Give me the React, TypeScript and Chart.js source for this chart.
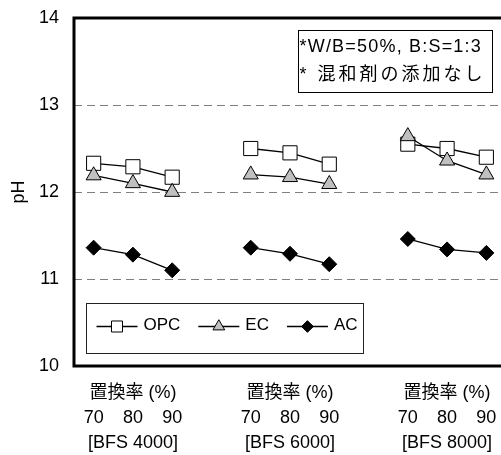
import React, { useEffect, useRef } from "react";
import { Chart, registerables } from "chart.js";

Chart.register(...registerables);

// ---- data ----
const seriesNames = ["OPC", "EC", "AC"];
const rateTitle = "置換率 (%)";
const replacementRates = ["70", "80", "90"];
const bfsGrades = ["[BFS 4000]", "[BFS 6000]", "[BFS 8000]"];
const opcPH = [12.33, 12.29, 12.17, 12.5, 12.45, 12.32, 12.55, 12.5, 12.4];
const ecPH = [12.19, 12.1, 12.0, 12.2, 12.17, 12.09, 12.64, 12.36, 12.2];
const acPH = [11.36, 11.28, 11.1, 11.36, 11.29, 11.17, 11.46, 11.34, 11.3];
const yMin = 10;
const yMax = 14;
const yStep = 1;
const yTitle = "pH";
const noteLines = ["*W/B=50%, B:S=1:3", "* 混和剤の添加なし"];

const FONT = "'Liberation Sans', Arial, 'Noto Sans CJK JP', sans-serif";

function buildLabels(): (string | string[])[] {
  const out: (string | string[])[] = [];
  bfsGrades.forEach((grade, g) => {
    if (g > 0) out.push("");
    replacementRates.forEach((rate, i) => {
      out.push(i === 1 ? [rateTitle, rate, grade] : ["", rate, ""]);
    });
  });
  return out;
}

function buildSeries(vals: number[]): (number | null)[] {
  const out: (number | null)[] = [];
  bfsGrades.forEach((_, g) => {
    if (g > 0) out.push(null);
    replacementRates.forEach((_, i) => out.push(vals[g * replacementRates.length + i]));
  });
  return out;
}

function drawMarker(
  ctx: CanvasRenderingContext2D,
  style: string,
  x: number,
  y: number,
  r: number,
  fill: string
) {
  ctx.beginPath();
  if (style === "rect") {
    const s = r * Math.SQRT1_2;
    ctx.rect(x - s, y - s, 2 * s, 2 * s);
  } else if (style === "triangle") {
    ctx.moveTo(x, y - r);
    ctx.lineTo(x + r * Math.sin((2 * Math.PI) / 3), y + r / 2);
    ctx.lineTo(x - r * Math.sin((2 * Math.PI) / 3), y + r / 2);
    ctx.closePath();
  } else {
    ctx.moveTo(x - r, y);
    ctx.lineTo(x, y - r);
    ctx.lineTo(x + r, y);
    ctx.lineTo(x, y + r);
    ctx.closePath();
  }
  ctx.fillStyle = fill;
  ctx.fill();
  ctx.lineWidth = 1;
  ctx.strokeStyle = "#000";
  ctx.stroke();
}

const framePlugin = {
  id: "frame",
  afterDatasetsDraw(chart: any) {
    const { ctx, chartArea } = chart;
    const { left, right, top, bottom } = chartArea;
    ctx.save();
    ctx.strokeStyle = "#000";
    ctx.lineWidth = 3;
    ctx.beginPath();
    ctx.moveTo(left, top);
    ctx.lineTo(right, top);
    ctx.lineTo(right, bottom);
    ctx.lineTo(left, bottom);
    ctx.closePath();
    ctx.stroke();
    ctx.restore();
  },
};

const boxesPlugin = {
  id: "boxes",
  afterDraw(chart: any) {
    const { ctx, chartArea } = chart;
    const L = chartArea.left;
    const T = chartArea.top;
    ctx.save();

    // ---- legend box ----
    const bx = L + 12.5;
    const by = T + 285.5;
    const bw = 277;
    const bh = 50;
    ctx.fillStyle = "#fff";
    ctx.fillRect(bx, by, bw, bh);
    ctx.strokeStyle = "#222";
    ctx.lineWidth = 1;
    ctx.strokeRect(bx, by, bw, bh);

    ctx.font = `17px ${FONT}`;
    ctx.textBaseline = "middle";
    ctx.textAlign = "left";
    const cy = by + 23;
    let x = bx + 10;
    chart.data.datasets.forEach((d: any) => {
      ctx.strokeStyle = "#000";
      ctx.lineWidth = 1.3;
      ctx.beginPath();
      ctx.moveTo(x, cy);
      ctx.lineTo(x + 41, cy);
      ctx.stroke();
      drawMarker(ctx, d.pointStyle, x + 20.5, cy, d.pointRadius * 0.78, d.pointBackgroundColor);
      ctx.fillStyle = "#000";
      ctx.fillText(d.label, x + 47, cy - 1);
      const w = ctx.measureText(d.label).width;
      x = x + 47 + w + 18;
    });

    // ---- note box ----
    const nx = L + 224.5;
    const ny = T + 12.5;
    ctx.strokeStyle = "#000";
    ctx.lineWidth = 1;
    ctx.strokeRect(nx, ny, 194, 62);
    ctx.fillStyle = "#000";
    ctx.font = `18px ${FONT}`;
    (ctx as any).letterSpacing = "1.2px";
    ctx.fillText(noteLines[0], nx + 1, ny + 17);
    (ctx as any).letterSpacing = "3px";
    ctx.fillText(noteLines[1], nx + 1, ny + 45);
    (ctx as any).letterSpacing = "0px";
    ctx.restore();
  },
};

export default function App() {
  const ref = useRef<HTMLCanvasElement | null>(null);

  useEffect(() => {
    if (!ref.current) return;
    Chart.defaults.font.family = FONT;
    Chart.defaults.color = "#000";
    const styles = [
      { pointStyle: "rect", radius: 10, fill: "#ffffff", order: 1 },
      { pointStyle: "triangle", radius: 8.7, fill: "#c0c0c0", order: 0 },
      { pointStyle: "rectRot", radius: 7.5, fill: "#000000", order: 2 },
    ];
    const values = [opcPH, ecPH, acPH];
    const chart = new Chart(ref.current, {
      type: "line",
      data: {
        labels: buildLabels(),
        datasets: seriesNames.map((name, i) => ({
          label: name,
          data: buildSeries(values[i]),
          borderColor: "#000",
          borderWidth: 1.3,
          pointStyle: styles[i].pointStyle as any,
          pointRadius: styles[i].radius,
          pointHoverRadius: styles[i].radius,
          pointBackgroundColor: styles[i].fill,
          pointBorderColor: "#000",
          pointBorderWidth: 1,
          spanGaps: false,
          order: styles[i].order,
          tension: 0,
        })),
      },
      options: {
        animation: false,
        responsive: false,
        maintainAspectRatio: false,
        layout: { padding: { top: 18, right: 14, left: 0, bottom: 0 } },
        plugins: {
          legend: { display: false },
          tooltip: { enabled: false },
          title: { display: false },
        },
        scales: {
          x: {
            type: "category",
            offset: true,
            grid: { display: false, drawTicks: false },
            border: { display: false },
            ticks: {
              autoSkip: false,
              maxRotation: 0,
              minRotation: 0,
              padding: 14.5,
              color: "#000",
              font: { size: 18, lineHeight: "25px" as any, family: FONT },
            },
            afterFit: (scale: any) => {
              scale.height = 89;
            },
          },
          y: {
            min: yMin,
            max: yMax,
            ticks: {
              stepSize: yStep,
              padding: 0,
              color: "#000",
              font: { size: 18, family: FONT },
            },
            grid: {
              color: "#808080",
              lineWidth: 1,
              drawTicks: true,
              tickLength: 15,
              tickColor: "rgba(0,0,0,0)",
            },
            border: { display: false, dash: [8, 5] },
            title: {
              display: true,
              text: yTitle,
              color: "#000",
              font: { size: 18, family: FONT },
              padding: { top: 8, bottom: 0 },
            },
            afterFit: (scale: any) => {
              scale.width = 74;
            },
          },
        },
      },
      plugins: [framePlugin, boxesPlugin],
    });
    return () => chart.destroy();
  }, []);

  return (
    <div
      style={{
        position: "fixed",
        left: 0,
        top: 0,
        width: 501,
        height: 455,
        overflow: "hidden",
        background: "#fff",
      }}
    >
      <canvas ref={ref} width={520} height={455} style={{ display: "block" }} />
    </div>
  );
}
